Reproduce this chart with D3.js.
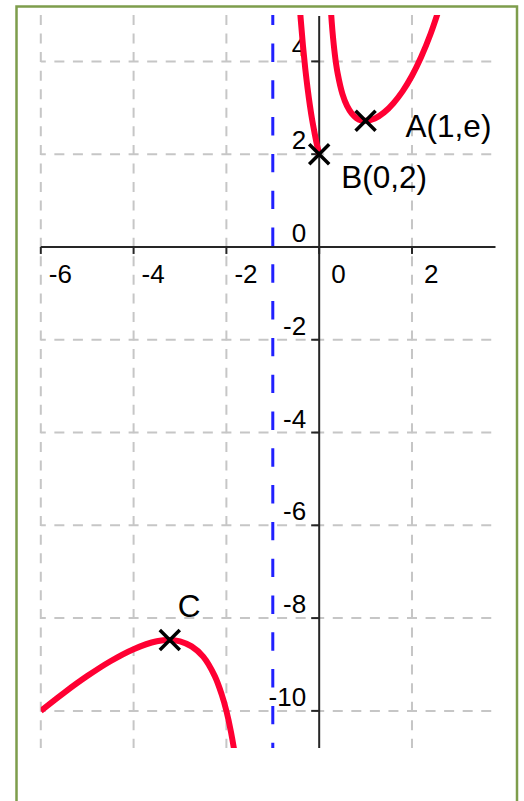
<!DOCTYPE html>
<html lang="en">
   <head>
      <meta charset="UTF-8">
      <title>Courbe avec asymptote</title>
      <script src="https://d3js.org/d3.v7.min.js"></script>
      <style>
         body { margin: 0; background: #fff; }
         text { font-family: "Liberation Sans", Arial, sans-serif; fill: #000; }
      </style>
   </head>
   <body>
      <div id="my_dataviz"></div>
      <script>
         // values
         var xTicks = [-6, -4, -2, 0, 2];
         var yTicks = [4, 2, 0, -2, -4, -6, -8, -10];
         var gridX = [-6, -4, -2, 2];
         var gridY = [4, 2, -2, -4, -6, -8, -10];
         var asymptoteX = -1;

         // branch for x < -1
         var leftX = [-6, -5.5, -5, -4.5, -4, -3.5, -3.22, -3, -2.75, -2.5, -2.25, -2.1, -2, -1.9, -1.8, -1.75];
         var leftY = [-10, -9.61, -9.25, -8.93, -8.67, -8.5, -8.47, -8.5, -8.61, -8.83, -9.25, -9.65, -10, -10.46, -11.05, -11.42];
         // branch for -1 < x <= 0
         var midX = [-0.45, -0.4, -0.35, -0.3, -0.25, -0.2, -0.15, -0.1, -0.05, 0];
         var midY = [5.64, 4.93, 4.34, 3.84, 3.42, 3.05, 2.73, 2.46, 2.21, 2];
         // branch for x > 0
         var rightX = [0.24, 0.27, 0.3, 0.35, 0.4, 0.5, 0.6, 0.7, 0.8, 0.9, 1, 1.2, 1.4, 1.6, 1.8, 2, 2.2, 2.4, 2.6];
         var rightY = [5.3, 4.85, 4.5, 4.05, 3.73, 3.3, 3.04, 2.88, 2.78, 2.73, 2.72, 2.77, 2.9, 3.1, 3.36, 3.69, 4.1, 4.59, 5.18];

         var pointNames = ["A(1,e)", "B(0,2)", "C"];
         var pointX = [1, 0, -3.22];
         var pointY = [2.72, 2, -8.47];

         var width = 524, height = 801;

         var svg = d3.select("#my_dataviz")
           .append("svg")
             .attr("width", width)
             .attr("height", height);

         var x = d3.scaleLinear().domain([-6, 3.8]).range([40.8, 495.5]);
         var y = d3.scaleLinear().domain([5, -10.8]).range([15, 748]);

         // green frame
         svg.append("rect")
            .attr("x", 16.5).attr("y", 6.5)
            .attr("width", 500.5).attr("height", 810)
            .attr("fill", "none")
            .attr("stroke", "#7e9d4c")
            .attr("stroke-width", 2.5);

         svg.append("defs").append("clipPath")
            .attr("id", "clip")
            .append("rect")
            .attr("x", x(-6)).attr("y", y(5))
            .attr("width", x(3.8) - x(-6))
            .attr("height", y(-10.8) - y(5));

         // dashed grid
         svg.append("g").selectAll("line")
            .data(gridX)
            .enter().append("line")
            .attr("x1", d => x(d)).attr("x2", d => x(d))
            .attr("y1", y(5)).attr("y2", y(-10.8))
            .attr("stroke", "#c6c6c6")
            .attr("stroke-width", 2)
            .attr("stroke-dasharray", "10,8.56");

         svg.append("g").selectAll("line")
            .data(gridY)
            .enter().append("line")
            .attr("x1", x(-6)).attr("x2", x(3.8))
            .attr("y1", d => y(d)).attr("y2", d => y(d))
            .attr("stroke", "#c6c6c6")
            .attr("stroke-width", 2)
            .attr("stroke-dasharray", "10,8.56")
            .attr("stroke-dashoffset", 5);

         // axes
         svg.append("line")
            .attr("x1", x(-6)).attr("x2", x(3.8))
            .attr("y1", y(0)).attr("y2", y(0))
            .attr("stroke", "#262626").attr("stroke-width", 2);
         svg.append("line")
            .attr("x1", x(0)).attr("x2", x(0))
            .attr("y1", y(5) + 1).attr("y2", y(-10.8))
            .attr("stroke", "#262626").attr("stroke-width", 2);

         svg.append("g").selectAll("line")
            .data(xTicks)
            .enter().append("line")
            .attr("x1", d => x(d)).attr("x2", d => x(d))
            .attr("y1", y(0)).attr("y2", y(0) + 7)
            .attr("stroke", "#262626").attr("stroke-width", 2);

         svg.append("g").selectAll("line")
            .data(yTicks)
            .enter().append("line")
            .attr("x1", x(0) - 8).attr("x2", x(0))
            .attr("y1", d => y(d)).attr("y2", d => y(d))
            .attr("stroke", "#262626").attr("stroke-width", 2);

         svg.append("g").selectAll("text")
            .data(xTicks)
            .enter().append("text")
            .attr("x", d => x(d) + (d < 0 ? 8 : 12))
            .attr("y", y(0) + 36)
            .style("font-size", "26px")
            .text(d => d);

         svg.append("g").selectAll("text")
            .data(yTicks)
            .enter().append("text")
            .attr("x", x(0) - 13)
            .attr("y", d => y(d) - 5)
            .attr("text-anchor", "end")
            .style("font-size", "26px")
            .text(d => d);

         // vertical asymptote
         svg.append("line")
            .attr("x1", x(asymptoteX)).attr("x2", x(asymptoteX))
            .attr("y1", y(5)).attr("y2", y(-10.8))
            .attr("stroke", "#2020ff")
            .attr("stroke-width", 3)
            .attr("stroke-dasharray", "18.4,18.4")
            .attr("stroke-dashoffset", 8.3);

         // the curve, three pieces
         var line = d3.line()
            .x(d => x(d[0]))
            .y(d => y(d[1]))
            .curve(d3.curveCatmullRom);

         var curves = svg.append("g").attr("clip-path", "url(#clip)");
         [[leftX, leftY], [midX, midY], [rightX, rightY]].forEach(function(b) {
            curves.append("path")
               .datum(d3.zip(b[0], b[1]))
               .attr("fill", "none")
               .attr("stroke", "#ff0033")
               .attr("stroke-width", 6)
               .attr("d", line);
         });

         // marked points
         var labelDx = [40, 22, 8], labelDy = [16, 34, -23];
         var pts = svg.append("g").selectAll("g")
            .data(pointNames)
            .enter().append("g")
            .attr("transform", (d, i) => "translate(" + x(pointX[i]) + "," + y(pointY[i]) + ")");

         pts.append("path")
            .attr("d", "M-10,-10L10,10M-10,10L10,-10")
            .attr("stroke", "#000")
            .attr("stroke-width", 3.5);

         pts.append("text")
            .attr("x", (d, i) => labelDx[i])
            .attr("y", (d, i) => labelDy[i])
            .style("font-size", "31.5px")
            .text(d => d);
      </script>
   </body>
</html>
